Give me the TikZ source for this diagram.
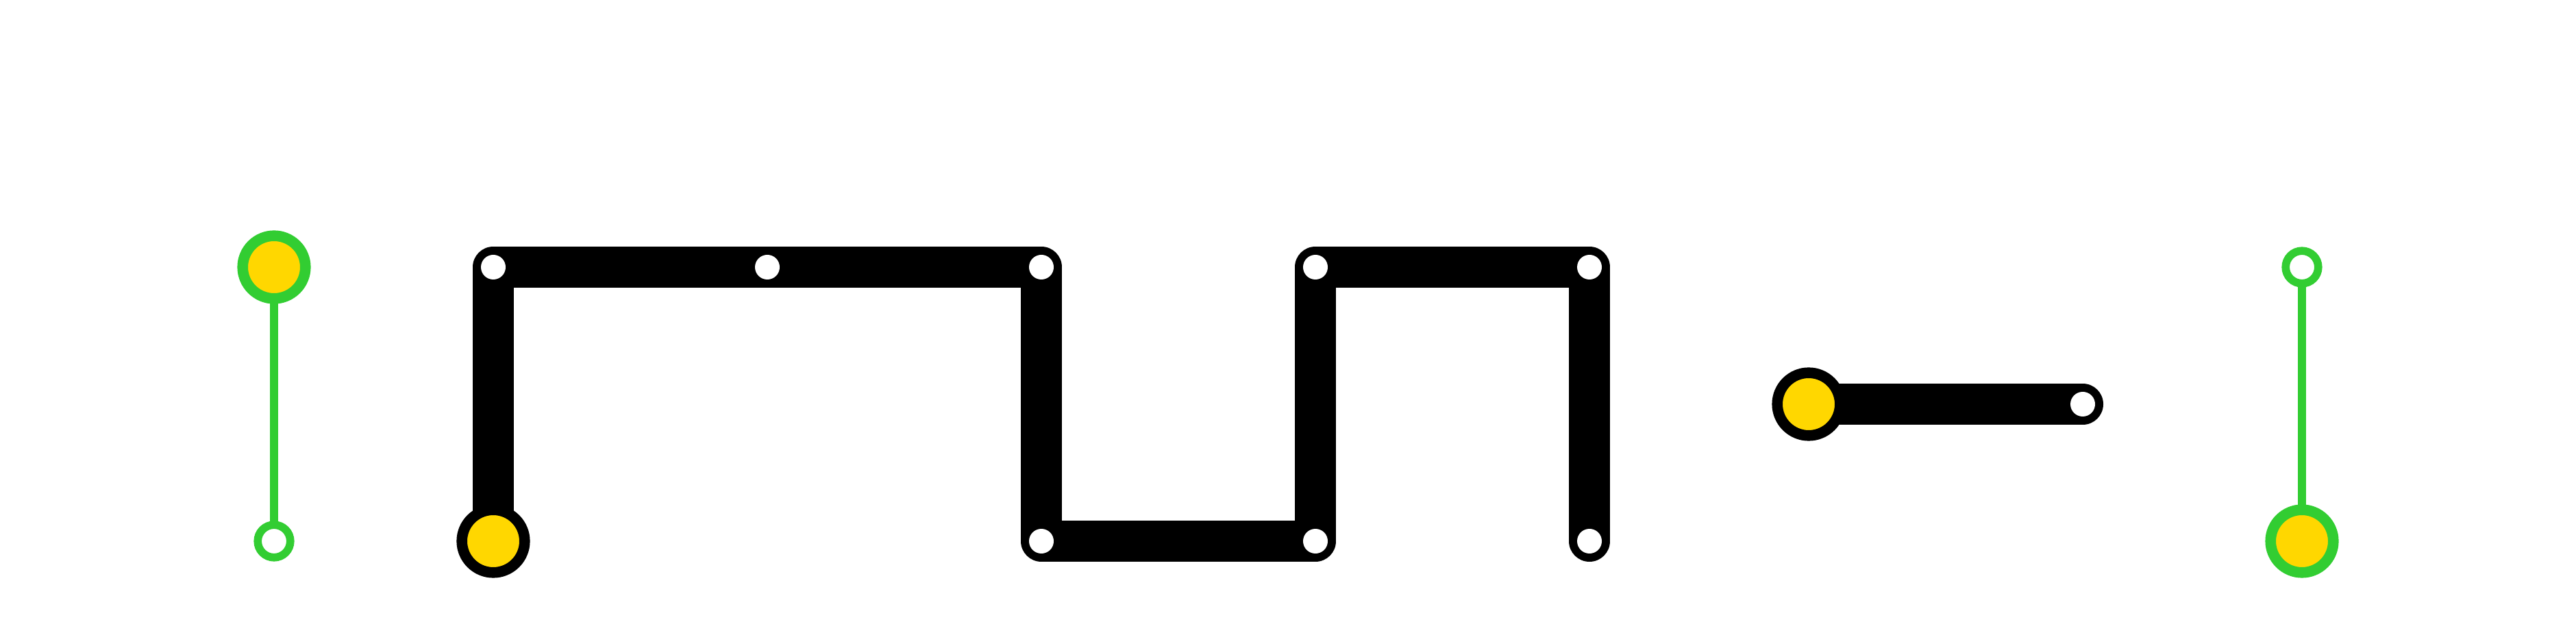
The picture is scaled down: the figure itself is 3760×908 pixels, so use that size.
\documentclass[tikz,border=0pt]{standalone}
\usetikzlibrary{backgrounds}
\definecolor{lgreen}{RGB}{50,205,50}
\definecolor{gold}{RGB}{255,215,0}
\tikzset{
  px/.style={x=0.25pt,y=-0.25pt},
  bigstation/.style={circle,inner sep=0pt,minimum size=22.9pt,fill=gold,line width=3.9pt},
  smallstation/.style={circle,inner sep=0pt,minimum size=11.9pt,fill=white,draw=lgreen,line width=2.9pt},
  dotstation/.style={circle,inner sep=0pt,minimum size=9pt,fill=white},
  metro/.style={line width=15pt,black,line join=round,line cap=round},
  greenline/.style={line width=2.9pt,lgreen},
}
\begin{document}
\begin{tikzpicture}[px]
\useasboundingbox (0,0) rectangle (3760,908);
% left green line
\node[bigstation,draw=lgreen] (g1) at (400,390) {};
\node[smallstation] (g2) at (400,790) {};
% black winding line
\node[bigstation,draw=black] (b1) at (720,790) {};
\node[dotstation] (b2) at (720,390) {};
\node[dotstation] (b3) at (1120,390) {};
\node[dotstation] (b4) at (1520,390) {};
\node[dotstation] (b5) at (1520,790) {};
\node[dotstation] (b6) at (1920,790) {};
\node[dotstation] (b7) at (1920,390) {};
\node[dotstation] (b8) at (2320,390) {};
\node[dotstation] (b9) at (2320,790) {};
% short black line
\node[bigstation,draw=black] (c1) at (2640,590) {};
\node[dotstation] (c2) at (3040,590) {};
% right green line
\node[smallstation] (h1) at (3360,390) {};
\node[bigstation,draw=lgreen] (h2) at (3360,790) {};
\begin{pgfonlayer}{background}
\fill[white] (0,0) rectangle (3760,908);
\draw[greenline] (g1.center) -- (g2.center);
\draw[metro] (b1.center) -- (b2.center) -- (b3.center) -- (b4.center) -- (b5.center) -- (b6.center) -- (b7.center) -- (b8.center) -- (b9.center);
\draw[metro] (c1.center) -- (c2.center);
\draw[greenline] (h1.center) -- (h2.center);
\end{pgfonlayer}
\end{tikzpicture}
\end{document}
